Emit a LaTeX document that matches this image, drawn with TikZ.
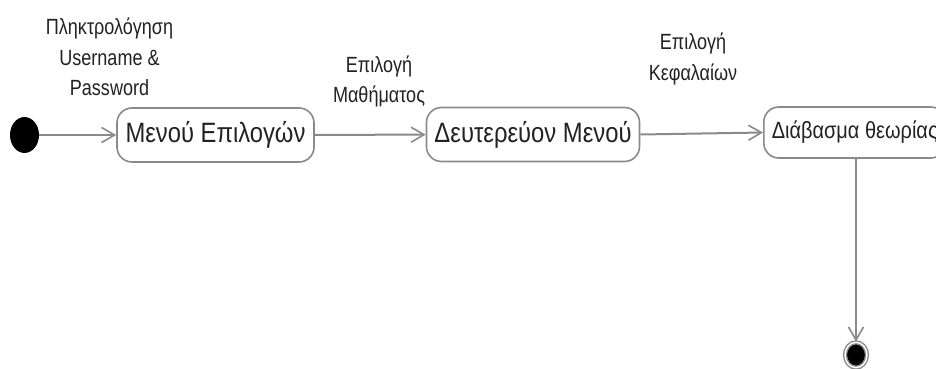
\documentclass[tikz,border=0pt]{standalone}
\usepackage{fontspec}
\setmainfont{Liberation Sans}
\newfontfamily\statefont[FakeStretch=0.85]{Liberation Sans}
\newfontfamily\labelfont[FakeStretch=0.82]{Liberation Sans}
\usetikzlibrary{arrows.meta}
\definecolor{linegray}{HTML}{8A8A8A}
\definecolor{inkdark}{HTML}{222222}
\tikzset{
  state/.style={draw=linegray, line width=1.6pt, rounded corners=15pt, fill=white,
    minimum height=54pt, inner ysep=0pt, inner xsep=8pt, text=inkdark,
    font=\statefont\fontsize{28}{32}\selectfont},
  trans/.style={draw=linegray, line width=2pt,
    -{Straight Barb[length=13pt,width=15pt,line width=1.6pt]}},
  translabel/.style={align=center, anchor=base, inner sep=0pt, text=inkdark,
    font=\labelfont\fontsize{22}{30}\selectfont},
  pseudo/.style={fill=black, shape=circle, inner sep=0pt},
}
\begin{document}
\begin{tikzpicture}[x=1pt, y=-1pt]
  \clip (0,0) rectangle (936,369);
  \fill[white] (0,0) rectangle (936,369);

  % initial and final pseudo-states
  \node (init) [pseudo, minimum size=29pt, yscale=1.24] at (24.5,135) {};
  \node (final) [pseudo, draw=linegray, line width=1.4pt, double=white,
    double distance=1.4pt, minimum size=22pt, yscale=1.15] at (856,355) {};

  % states
  \node (menu) [state, minimum width=197pt] at (215.5,135) {Μενού Επιλογών};
  \node (sub)  [state, minimum width=210pt] at (533,134.5) {Δευτερεύον Μενού};
  \node (read) [state, anchor=west, minimum height=51pt,
    font=\statefont\fontsize{23.5}{28}\selectfont] at (763,132.5) {Διάβασμα θεωρίας};

  % transitions
  \draw[trans] (init) -- (menu);
  \draw[trans] (menu) -- (sub);
  \draw[trans] (sub.east) -- (read.west);
  \draw[trans] (read.south -| final) -- (final);

  % transition labels (anchored on the baseline of their last line)
  \node (l1) [translabel] at (109.5,95) {Πληκτρολόγηση\\Username \&\\Password};
  \node (l2) [translabel] at (379,102) {Επιλογή\\Μαθήματος};
  \node (l3) [translabel] at (693,80) {Επιλογή\\Κεφαλαίων};
\end{tikzpicture}
\end{document}
